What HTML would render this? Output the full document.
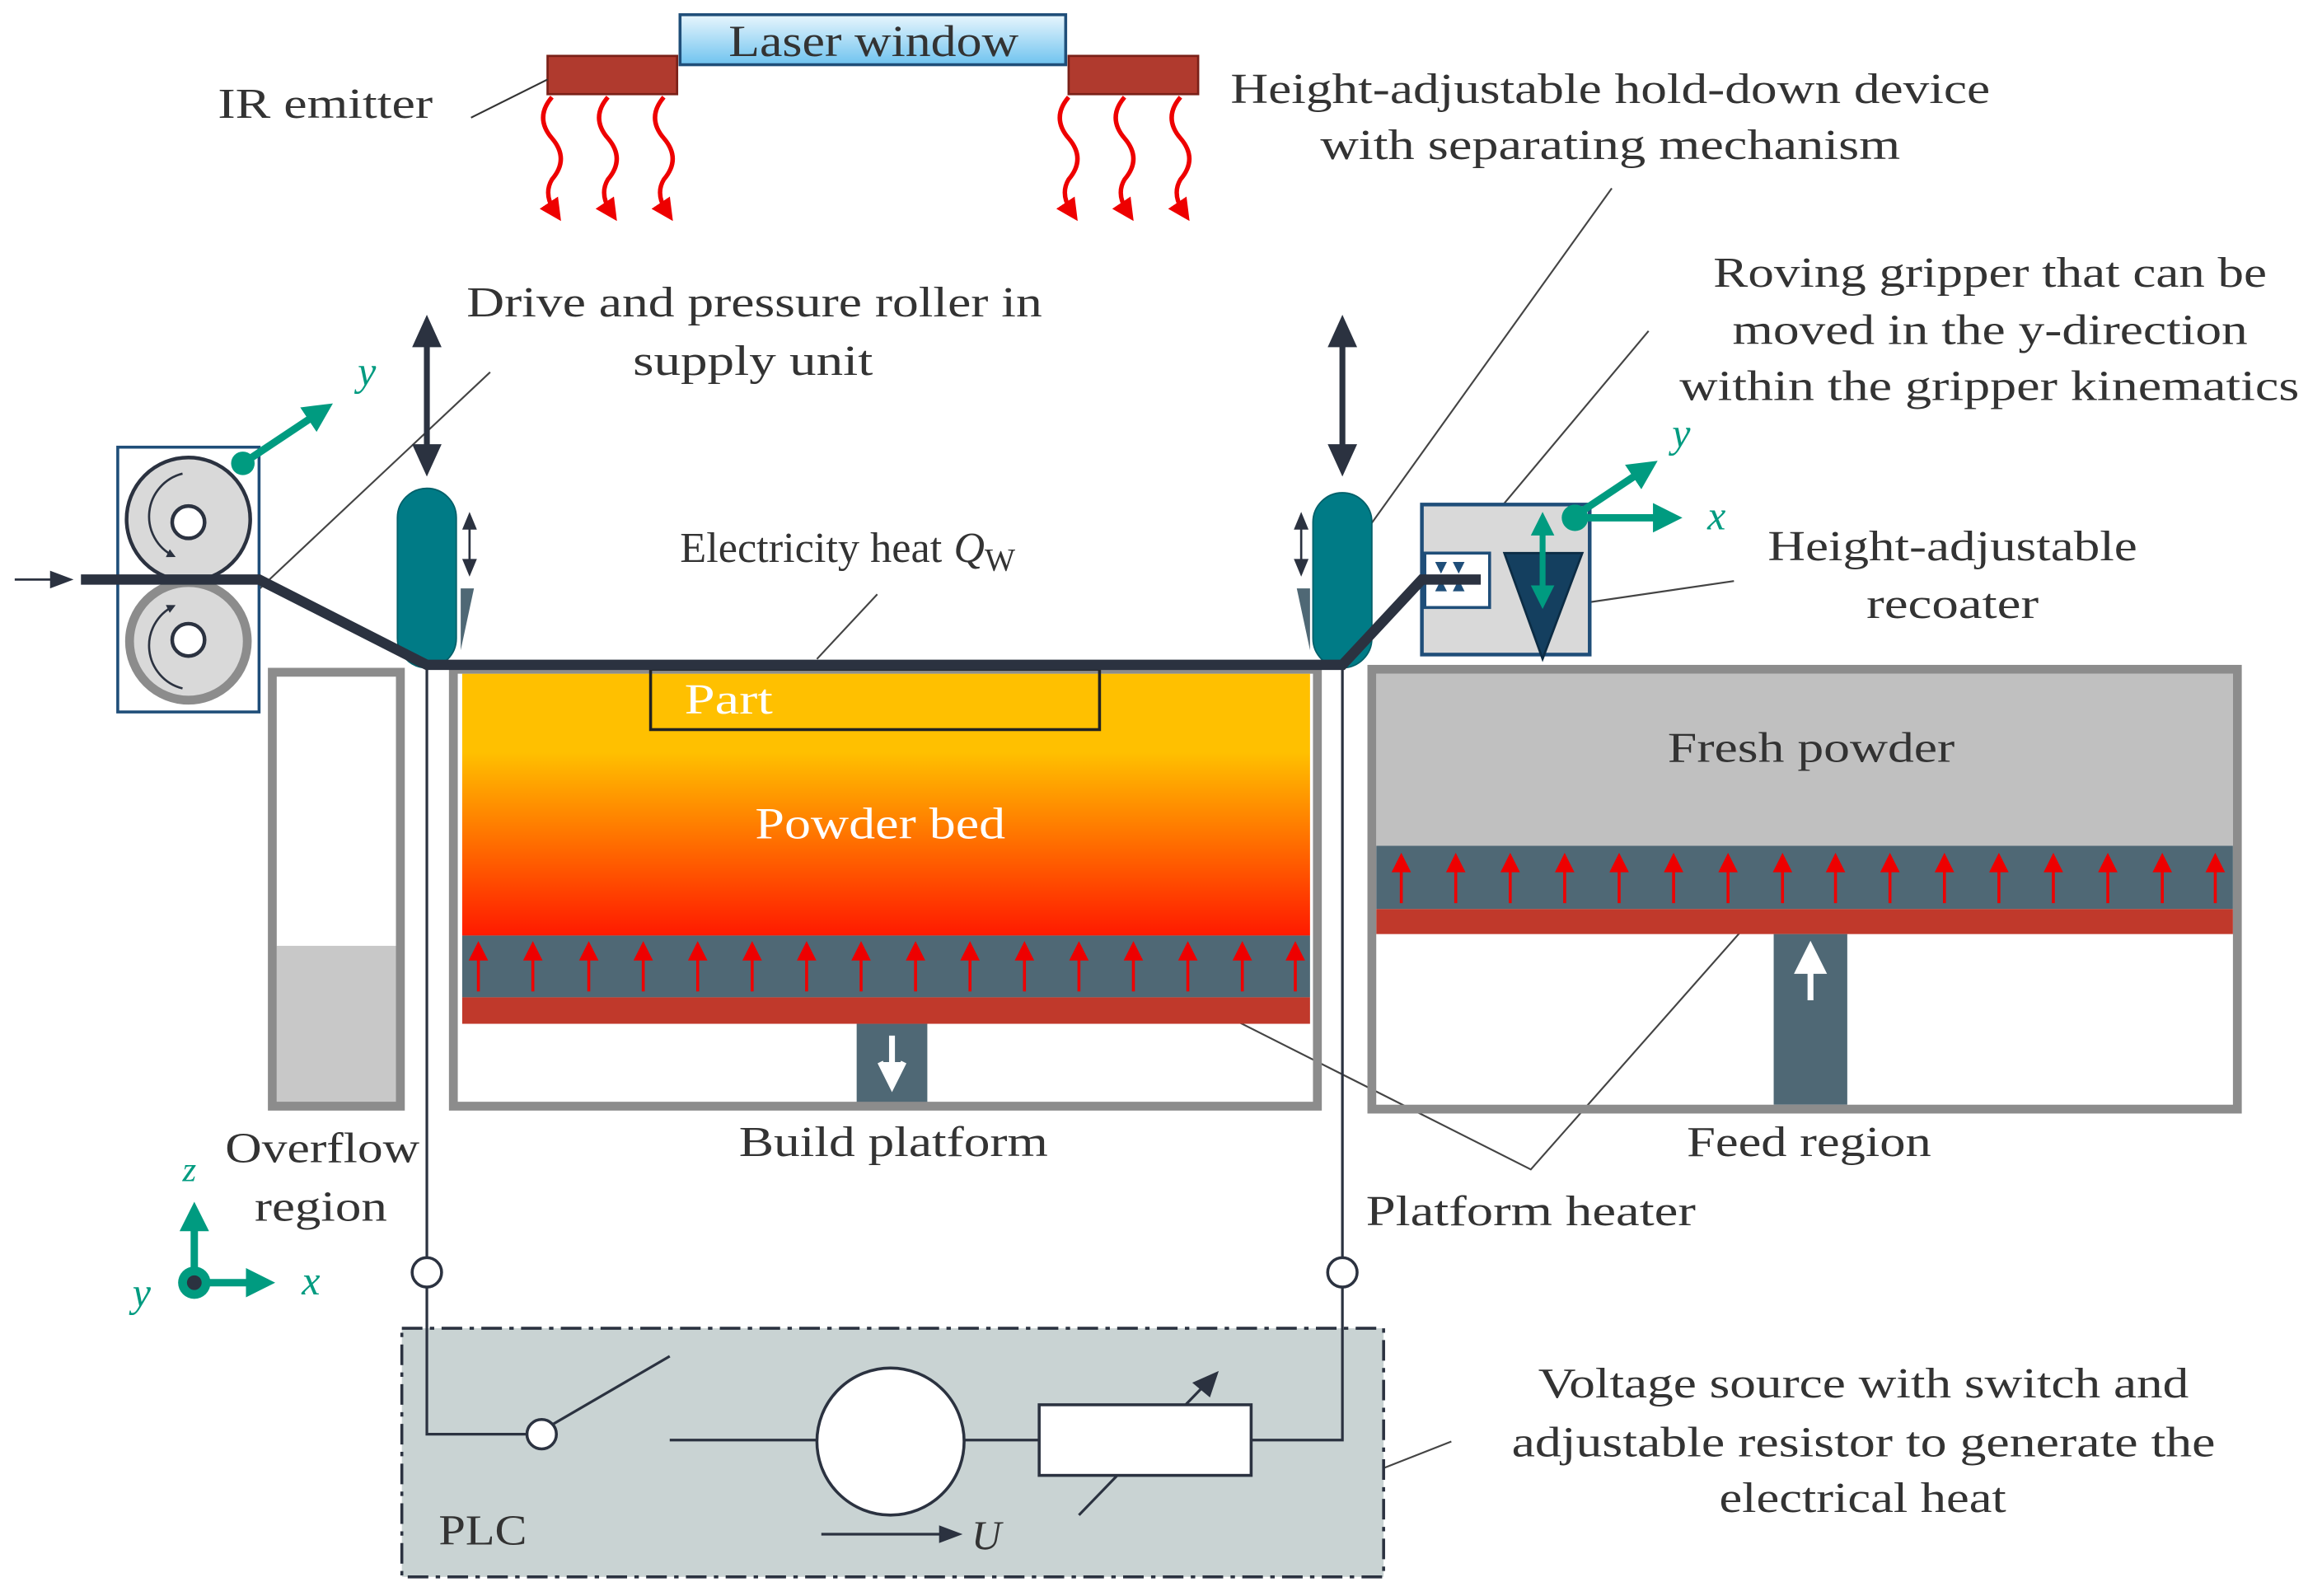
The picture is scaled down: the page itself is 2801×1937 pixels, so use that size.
<!DOCTYPE html>
<html><head><meta charset="utf-8"><style>
html,body{margin:0;padding:0;background:#fff}
svg{display:block}
text{font-family:"Liberation Serif",serif;fill:#333}
</style></head><body>
<svg width="2801" height="1937" viewBox="0 0 1568 1085" preserveAspectRatio="none" xmlns="http://www.w3.org/2000/svg">
<defs>
<linearGradient id="lw" x1="0" y1="0" x2="0" y2="1"><stop offset="0" stop-color="#e8f6fd"/><stop offset="1" stop-color="#6fc3ef"/></linearGradient>
<linearGradient id="pb" x1="0" y1="0" x2="0" y2="1"><stop offset="0.3" stop-color="#ffc000"/><stop offset="1" stop-color="#ff1a00"/></linearGradient>
<marker id="ahr" markerWidth="5" markerHeight="5" refX="2.5" refY="2.5" orient="auto" markerUnits="strokeWidth"><path d="M0,0 L5,2.5 L0,5 z" fill="#e00"/></marker>
<marker id="aht" markerWidth="4" markerHeight="4" refX="3" refY="2" orient="auto" markerUnits="strokeWidth"><path d="M0,0 L4,2 L0,4 z" fill="#009b80"/></marker>
<marker id="ahd" markerWidth="4" markerHeight="4" refX="3" refY="2" orient="auto" markerUnits="strokeWidth"><path d="M0,0 L4,2 L0,4 z" fill="#2b3240"/></marker>
</defs>

<rect x="462" y="10" width="262" height="34" fill="url(#lw)" stroke="#1f4e79" stroke-width="2"/>
<text x="495" y="38" font-size="30" textLength="197" lengthAdjust="spacingAndGlyphs">Laser window</text>
<rect x="372" y="38" width="88" height="26" fill="#b03a2e" stroke="#7a2018" stroke-width="1.5"/>
<rect x="726" y="38" width="88" height="26" fill="#b03a2e" stroke="#7a2018" stroke-width="1.5"/>
<g fill="none" stroke="#e00" stroke-width="3" marker-end="url(#ahr)">
<path d="M375,66 q-12,14 0,28 q12,14 0,28 q-6,10 2,22"/>
<path d="M413,66 q-12,14 0,28 q12,14 0,28 q-6,10 2,22"/>
<path d="M451,66 q-12,14 0,28 q12,14 0,28 q-6,10 2,22"/>
<path d="M726,66 q-12,14 0,28 q12,14 0,28 q-6,10 2,22"/>
<path d="M764,66 q-12,14 0,28 q12,14 0,28 q-6,10 2,22"/>
<path d="M802,66 q-12,14 0,28 q12,14 0,28 q-6,10 2,22"/>
</g>
<text x="148" y="80" font-size="29" textLength="146" lengthAdjust="spacingAndGlyphs">IR emitter</text>
<line x1="320" y1="80" x2="372" y2="54" stroke="#333" stroke-width="1.2"/>

<g font-size="29" lengthAdjust="spacingAndGlyphs">
<text x="836" y="70" textLength="516" lengthAdjust="spacingAndGlyphs">Height-adjustable hold-down device</text>
<text x="897" y="108" textLength="394" lengthAdjust="spacingAndGlyphs">with separating mechanism</text>
<text x="317" y="215" textLength="391" lengthAdjust="spacingAndGlyphs">Drive and pressure roller in</text>
<text x="430" y="255" textLength="163" lengthAdjust="spacingAndGlyphs">supply unit</text>
<text x="1164" y="195" textLength="376" lengthAdjust="spacingAndGlyphs">Roving gripper that can be</text>
<text x="1177" y="234" textLength="350" lengthAdjust="spacingAndGlyphs">moved in the y-direction</text>
<text x="1141" y="272" textLength="421" lengthAdjust="spacingAndGlyphs">within the gripper kinematics</text>
<text x="1201" y="381" textLength="251" lengthAdjust="spacingAndGlyphs">Height-adjustable</text>
<text x="1268" y="420" textLength="117" lengthAdjust="spacingAndGlyphs">recoater</text>
<text x="502" y="786" textLength="210" lengthAdjust="spacingAndGlyphs">Build platform</text>
<text x="1146" y="786" textLength="166" lengthAdjust="spacingAndGlyphs">Feed region</text>
<text x="153" y="790" textLength="132" lengthAdjust="spacingAndGlyphs">Overflow</text>
<text x="173" y="830" textLength="90" lengthAdjust="spacingAndGlyphs">region</text>
<text x="1045" y="950" textLength="442" lengthAdjust="spacingAndGlyphs">Voltage source with switch and</text>
<text x="1027" y="990" textLength="478" lengthAdjust="spacingAndGlyphs">adjustable resistor to generate the</text>
<text x="1168" y="1028" textLength="195" lengthAdjust="spacingAndGlyphs">electrical heat</text>
<text x="928" y="833" textLength="224" lengthAdjust="spacingAndGlyphs">Platform heater</text>
</g>
<text x="462" y="382" font-size="29"><tspan textLength="178" lengthAdjust="spacingAndGlyphs">Electricity heat</tspan><tspan x="648" font-style="italic">Q</tspan><tspan font-size="22" dy="6">W</tspan></text>

<g stroke="#444" stroke-width="1.2" fill="none">
<line x1="333" y1="253" x2="150" y2="425"/>
<line x1="555" y1="448" x2="596" y2="404"/>
<line x1="1095" y1="128" x2="918" y2="375"/>
<line x1="1120" y1="225" x2="992" y2="378"/>
<line x1="1178" y1="395" x2="1062" y2="412"/>
<polyline points="818,683 1040,795 1190,625"/>
<line x1="884" y1="1020" x2="986" y2="980"/>
</g>

<rect x="80" y="304" width="96" height="180" fill="#fff" stroke="#1f4e79" stroke-width="2"/>
<circle cx="128" cy="353" r="42" fill="#d9d9d9" stroke="#2b3240" stroke-width="2.5"/>
<circle cx="128" cy="436" r="40" fill="#d9d9d9" stroke="#8c8c8c" stroke-width="6"/>
<circle cx="128" cy="355" r="11" fill="#fff" stroke="#2b3240" stroke-width="2.5"/>
<circle cx="128" cy="435" r="11" fill="#fff" stroke="#2b3240" stroke-width="2.5"/>
<path d="M124,322 a30,30 0 0 0 -6,56" fill="none" stroke="#2b3240" stroke-width="1.5" marker-end="url(#ahd)"/>
<path d="M124,468 a30,30 0 0 1 -6,-56" fill="none" stroke="#2b3240" stroke-width="1.5" marker-end="url(#ahd)"/>
<line x1="10" y1="394" x2="40" y2="394" stroke="#2b3240" stroke-width="1.5"/>
<path d="M34,388 L50,394 L34,400z" fill="#2b3240"/>

<rect x="188" y="643" width="82" height="107" fill="#c8c8c8"/>
<path d="M185,752 V457 H272 V752 Z" fill="none" stroke="#8c8c8c" stroke-width="6"/>
<rect x="314" y="458" width="576" height="178" fill="url(#pb)"/>
<rect x="314" y="636" width="576" height="42" fill="#4f6875"/>
<rect x="314" y="678" width="576" height="18" fill="#c0392b"/>
<rect x="582" y="696" width="48" height="54" fill="#4f6875"/>
<rect x="308" y="455" width="587" height="297" fill="none" stroke="#8c8c8c" stroke-width="6"/>
<rect x="935" y="458" width="582" height="117" fill="#c0c0c0"/>
<rect x="935" y="575" width="582" height="43" fill="#4f6875"/>
<rect x="935" y="618" width="582" height="17" fill="#c0392b"/>
<rect x="1205" y="635" width="50" height="116" fill="#4f6875"/>
<rect x="932" y="455" width="588" height="299" fill="none" stroke="#8c8c8c" stroke-width="6"/>
<text x="1133" y="518" font-size="29" textLength="195" lengthAdjust="spacingAndGlyphs">Fresh powder</text>
<path d="M606,704 V728 M598,722 L606,738 L614,722" stroke="#fff" stroke-width="4" fill="#fff"/>
<path d="M1230,680 V660 M1222,660 L1230,644 L1238,660 Z" stroke="#fff" stroke-width="4" fill="#fff"/>
<g stroke="#e00" stroke-width="2" fill="#e00">
<path d="M325,674V652M320,652L325,642L330,652Z M362,674V652M357,652L362,642L367,652Z M400,674V652M395,652L400,642L405,652Z M437,674V652M432,652L437,642L442,652Z M474,674V652M469,652L474,642L479,652Z M511,674V652M506,652L511,642L516,652Z M548,674V652M543,652L548,642L553,652Z M585,674V652M580,652L585,642L590,652Z M622,674V652M617,652L622,642L627,652Z M659,674V652M654,652L659,642L664,652Z M696,674V652M691,652L696,642L701,652Z M733,674V652M728,652L733,642L738,652Z M770,674V652M765,652L770,642L775,652Z M807,674V652M802,652L807,642L812,652Z M844,674V652M839,652L844,642L849,652Z M880,674V652M875,652L880,642L885,652Z"/>
<path d="M952,614V592M947,592L952,582L957,592Z M989,614V592M984,592L989,582L994,592Z M1026,614V592M1021,592L1026,582L1031,592Z M1063,614V592M1058,592L1063,582L1068,592Z M1100,614V592M1095,592L1100,582L1105,592Z M1137,614V592M1132,592L1137,582L1142,592Z M1174,614V592M1169,592L1174,582L1179,592Z M1211,614V592M1206,592L1211,582L1216,592Z M1247,614V592M1242,592L1247,582L1252,592Z M1284,614V592M1279,592L1284,582L1289,592Z M1321,614V592M1316,592L1321,582L1326,592Z M1358,614V592M1353,592L1358,582L1363,592Z M1395,614V592M1390,592L1395,582L1400,592Z M1432,614V592M1427,592L1432,582L1437,592Z M1469,614V592M1464,592L1469,582L1474,592Z M1505,614V592M1500,592L1505,582L1510,592Z"/>
</g>
<rect x="442" y="455" width="305" height="41" fill="none" stroke="#222" stroke-width="2"/>
<text x="465" y="485" font-size="29" textLength="60" lengthAdjust="spacingAndGlyphs" style="fill:#fff">Part</text>
<text x="513" y="570" font-size="30" textLength="170" lengthAdjust="spacingAndGlyphs" style="fill:#fff">Powder bed</text>

<g stroke="#2b3240" stroke-width="1.8" fill="none">
<line x1="290" y1="452" x2="290" y2="855"/>
<line x1="912" y1="452" x2="912" y2="855"/>
</g>

<rect x="270" y="332" width="40" height="122" rx="20" fill="#007b86" stroke="#00606a" stroke-width="1"/>
<rect x="892" y="335" width="40" height="119" rx="20" fill="#007b86" stroke="#00606a" stroke-width="1"/>
<path d="M313,400 H322 L313,442Z" fill="#4f6875"/>
<path d="M881,400 H890 V442Z" fill="#4f6875"/>
<g stroke="#2b3240" stroke-width="4">
<line x1="290" y1="232" x2="290" y2="305"/><line x1="912" y1="232" x2="912" y2="305"/>
</g>
<g fill="#2b3240">
<path d="M280,236 L290,214 L300,236Z M280,302 L290,324 L300,302Z"/>
<path d="M902,236 L912,214 L922,236Z M902,302 L912,324 L922,302Z"/>
<path d="M314,360 L319,348 L324,360Z M314,380 L319,392 L324,380Z"/>
<path d="M879,360 L884,348 L889,360Z M879,380 L884,392 L889,380Z"/>
</g>
<line x1="319" y1="355" x2="319" y2="385" stroke="#2b3240" stroke-width="1.5"/>
<line x1="884" y1="355" x2="884" y2="385" stroke="#2b3240" stroke-width="1.5"/>

<rect x="966" y="343" width="114" height="102" fill="#d9d9d9" stroke="#1f4e79" stroke-width="2.5"/>
<rect x="968" y="376" width="44" height="37" fill="#fff" stroke="#1f4e79" stroke-width="2"/>
<path d="M975,382 H983 L979,390Z M987,382 H995 L991,390Z M975,402 H983 L979,394Z M987,402 H995 L991,394Z" fill="#1f4e79"/>
<path d="M1022,376 H1075 L1048,448Z" fill="#143f5f" stroke="#0c2c44" stroke-width="1.5"/>
<line x1="1048" y1="360" x2="1048" y2="402" stroke="#009b80" stroke-width="4"/>
<path d="M1040,364 L1048,348 L1056,364Z M1040,398 L1048,414 L1056,398Z" fill="#009b80"/>

<polyline points="55,394 176,394 290,452 912,452 966,394 1006,394" fill="none" stroke="#2b3240" stroke-width="7"/>

<g stroke="#009b80" stroke-width="5" fill="none">
<line x1="165" y1="315" x2="222" y2="277" marker-end="url(#aht)"/>
<line x1="1068" y1="352" x2="1138" y2="352" marker-end="url(#aht)"/>
<line x1="1068" y1="352" x2="1122" y2="316" marker-end="url(#aht)"/>
<line x1="132" y1="872" x2="132" y2="822" marker-end="url(#aht)"/>
<line x1="132" y1="872" x2="182" y2="872" marker-end="url(#aht)"/>
</g>
<circle cx="165" cy="315" r="8" fill="#009b80"/>
<circle cx="1070" cy="352" r="9" fill="#009b80"/>
<circle cx="132" cy="872" r="11" fill="#009b80"/>
<circle cx="132" cy="872" r="5" fill="#2b3240"/>
<g font-size="28" font-style="italic">
<text x="243" y="262" style="fill:#009b80">y</text>
<text x="1136" y="304" style="fill:#009b80">y</text>
<text x="1160" y="360" style="fill:#009b80">x</text>
<text x="124" y="803" font-size="24" style="fill:#009b80">z</text>
<text x="205" y="880" style="fill:#009b80">x</text>
<text x="90" y="888" style="fill:#009b80">y</text>
</g>

<rect x="273" y="903" width="667" height="169" fill="#c9d3d3" stroke="#2b3240" stroke-width="2" stroke-dasharray="14,5,3,5"/>
<g stroke="#2b3240" stroke-width="1.8" fill="none">
<polyline points="290,875 290,975 358,975"/>
<line x1="376" y1="968" x2="455" y2="922"/>
<line x1="455" y1="979" x2="706" y2="979"/>
<polyline points="850,979 912,979 912,875"/>
<line x1="733" y1="1030" x2="818" y2="942"/>
<line x1="558" y1="1043" x2="640" y2="1043"/>
</g>
<circle cx="290" cy="865" r="10" fill="#fff" stroke="#2b3240" stroke-width="2"/>
<circle cx="912" cy="865" r="10" fill="#fff" stroke="#2b3240" stroke-width="2"/>
<circle cx="368" cy="975" r="10" fill="#fff" stroke="#2b3240" stroke-width="2"/>
<circle cx="605" cy="980" r="50" fill="#fff" stroke="#2b3240" stroke-width="2"/>
<rect x="706" y="955" width="144" height="48" fill="#fff" stroke="#2b3240" stroke-width="2"/>
<path d="M810,940 L828,932 L822,950Z" fill="#2b3240"/>
<path d="M638,1037 L654,1043 L638,1049Z" fill="#2b3240"/>
<text x="660" y="1053" font-size="28" font-style="italic">U</text>
<text x="298" y="1050" font-size="29" textLength="60" lengthAdjust="spacingAndGlyphs">PLC</text>
</svg>
</body></html>
